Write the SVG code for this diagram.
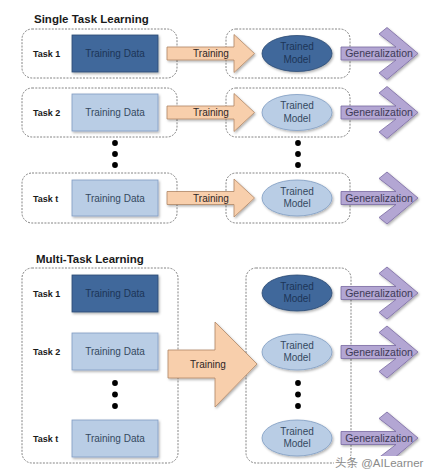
<svg xmlns="http://www.w3.org/2000/svg" width="442" height="476" viewBox="0 0 442 476">
<style>
.title{font-family:"Liberation Sans",Arial,sans-serif;font-weight:bold;font-size:11.5px;fill:#1a1a1a}
.task{font-family:"Liberation Sans",Arial,sans-serif;font-weight:bold;font-size:9px;fill:#1a1a1a}
.lbl{font-family:"Liberation Sans",Arial,sans-serif;font-size:10px;text-anchor:middle}
.dash{fill:#fff;stroke:#666;stroke-width:0.8;stroke-dasharray:2 1.3}
.dark{fill:#40679b;stroke:#2b4a72;stroke-width:0.8}
.light{fill:#b9cde5;stroke:#7f9cc2;stroke-width:0.8}
.dt{fill:#1c3557}
.lt{fill:#34495f}
.train{fill:#f8cfac;stroke:#b08766;stroke-width:0.8}
.gen{fill:#b3a6d3;stroke:#7a69a2;stroke-width:0.8}
.gt{fill:#3d3a55;font-size:10.5px}
.tt{fill:#2e2626}
.dot{fill:#000}
</style>
<defs>
<filter id="sh" x="-10%" y="-10%" width="130%" height="140%">
<feDropShadow dx="1.2" dy="1.5" stdDeviation="1" flood-color="#000" flood-opacity="0.3"/>
</filter>
<polygon id="genArrow" class="gen" points="341,-6.5 396,-6.5 379,-19.5 387,-26 418,0 387,26 379,19.5 396,6.5 341,6.5"/>
<polygon id="trainArrow" class="train" points="167,-6.5 234,-6.5 234,-19 254.5,0 234,19 234,6.5 167,6.5"/>
</defs>

<text class="title" x="34" y="23">Single Task Learning</text>
<text class="title" x="36" y="263">Multi-Task Learning</text>

<g id="containers">
<rect class="dash" x="22" y="29" width="155" height="49" rx="10"/>
<rect class="dash" x="22" y="88" width="155" height="49" rx="10"/>
<rect class="dash" x="22" y="173" width="155" height="50" rx="10"/>
<rect class="dash" x="226" y="29" width="124" height="49" rx="10"/>
<rect class="dash" x="226" y="88" width="124" height="49" rx="10"/>
<rect class="dash" x="226" y="173" width="124" height="50" rx="10"/>
<rect class="dash" x="22" y="268" width="156" height="195" rx="10"/>
<rect class="dash" x="246" y="268" width="105" height="195" rx="10"/>
</g>

<g id="s-task1">
<text class="task" x="33" y="57">Task 1</text>
<rect class="dark" x="72" y="35" width="86" height="37" filter="url(#sh)"/>
<text class="lbl dt" x="115" y="57">Training Data</text>
</g>
<g id="s-task2">
<text class="task" x="33" y="116">Task 2</text>
<rect class="light" x="72" y="94" width="86" height="37" filter="url(#sh)"/>
<text class="lbl lt" x="115" y="116">Training Data</text>
</g>
<g id="s-taskt">
<text class="task" x="33" y="201.5">Task t</text>
<rect class="light" x="72" y="180" width="86" height="36" filter="url(#sh)"/>
<text class="lbl lt" x="115" y="201.5">Training Data</text>
</g>

<g id="s-model1">
<ellipse class="dark" cx="297" cy="53.5" rx="35" ry="18" filter="url(#sh)"/>
<text class="lbl dt" x="297" y="50">Trained</text>
<text class="lbl dt" x="297" y="62.5">Model</text>
</g>
<g id="s-model2">
<ellipse class="light" cx="297" cy="112.5" rx="35" ry="18" filter="url(#sh)"/>
<text class="lbl lt" x="297" y="109">Trained</text>
<text class="lbl lt" x="297" y="121.5">Model</text>
</g>
<g id="s-modelt">
<ellipse class="light" cx="297" cy="198" rx="35" ry="18" filter="url(#sh)"/>
<text class="lbl lt" x="297" y="194.5">Trained</text>
<text class="lbl lt" x="297" y="207">Model</text>
</g>

<g id="m-task1">
<text class="task" x="33" y="297">Task 1</text>
<rect class="dark" x="72" y="275" width="86" height="37" filter="url(#sh)"/>
<text class="lbl dt" x="115" y="297">Training Data</text>
</g>
<g id="m-task2">
<text class="task" x="33" y="355">Task 2</text>
<rect class="light" x="72" y="333" width="86" height="37" filter="url(#sh)"/>
<text class="lbl lt" x="115" y="355">Training Data</text>
</g>
<g id="m-taskt">
<text class="task" x="33" y="442">Task t</text>
<rect class="light" x="72" y="420" width="86" height="37" filter="url(#sh)"/>
<text class="lbl lt" x="115" y="442">Training Data</text>
</g>

<g id="m-model1">
<ellipse class="dark" cx="297" cy="293" rx="35" ry="18" filter="url(#sh)"/>
<text class="lbl dt" x="297" y="289.5">Trained</text>
<text class="lbl dt" x="297" y="302">Model</text>
</g>
<g id="m-model2">
<ellipse class="light" cx="297" cy="352" rx="35" ry="18" filter="url(#sh)"/>
<text class="lbl lt" x="297" y="348.5">Trained</text>
<text class="lbl lt" x="297" y="361">Model</text>
</g>
<g id="m-modelt">
<ellipse class="light" cx="297" cy="438" rx="35" ry="18" filter="url(#sh)"/>
<text class="lbl lt" x="297" y="434.5">Trained</text>
<text class="lbl lt" x="297" y="447">Model</text>
</g>

<g id="dots">
<circle class="dot" cx="115" cy="143" r="2.9"/><circle class="dot" cx="115" cy="154" r="2.9"/><circle class="dot" cx="115" cy="165" r="2.9"/>
<circle class="dot" cx="298" cy="143" r="2.9"/><circle class="dot" cx="298" cy="154" r="2.9"/><circle class="dot" cx="298" cy="165" r="2.9"/>
<circle class="dot" cx="115" cy="383" r="2.9"/><circle class="dot" cx="115" cy="394.5" r="2.9"/><circle class="dot" cx="115" cy="406" r="2.9"/>
<circle class="dot" cx="298" cy="383" r="2.9"/><circle class="dot" cx="298" cy="394.5" r="2.9"/><circle class="dot" cx="298" cy="406" r="2.9"/>
</g>

<g id="connectors">
<g transform="translate(0,53.5)">
<use href="#trainArrow" filter="url(#sh)"/>
<text class="lbl tt" x="211" y="3.5">Training</text>
<use href="#genArrow" filter="url(#sh)"/>
<text class="lbl gt" x="379" y="3.7">Generalization</text>
</g>
<g transform="translate(0,112.5)">
<use href="#trainArrow" filter="url(#sh)"/>
<text class="lbl tt" x="211" y="3.5">Training</text>
<use href="#genArrow" filter="url(#sh)"/>
<text class="lbl gt" x="379" y="3.7">Generalization</text>
</g>
<g transform="translate(0,198)">
<use href="#trainArrow" filter="url(#sh)"/>
<text class="lbl tt" x="211" y="3.5">Training</text>
<use href="#genArrow" filter="url(#sh)"/>
<text class="lbl gt" x="379" y="3.7">Generalization</text>
</g>
<polygon class="train" points="168,350 215,350 215,322 257,364 215,407 215,378 168,378" filter="url(#sh)"/>
<text class="lbl tt" x="208" y="367.5">Training</text>
<g transform="translate(0,293)">
<use href="#genArrow" filter="url(#sh)"/>
<text class="lbl gt" x="379" y="3.7">Generalization</text>
</g>
<g transform="translate(0,352)">
<use href="#genArrow" filter="url(#sh)"/>
<text class="lbl gt" x="379" y="3.7">Generalization</text>
</g>
<g transform="translate(0,438)">
<use href="#genArrow" filter="url(#sh)"/>
<text class="lbl gt" x="379" y="3.7">Generalization</text>
</g>
</g>

<rect x="334" y="456" width="92" height="14" fill="#fff"/>
<text x="335" y="467" font-family="Liberation Sans,'Noto Sans CJK SC',sans-serif" font-size="11.5" fill="#8a8a8a">头条 @AILearner</text>
</svg>
